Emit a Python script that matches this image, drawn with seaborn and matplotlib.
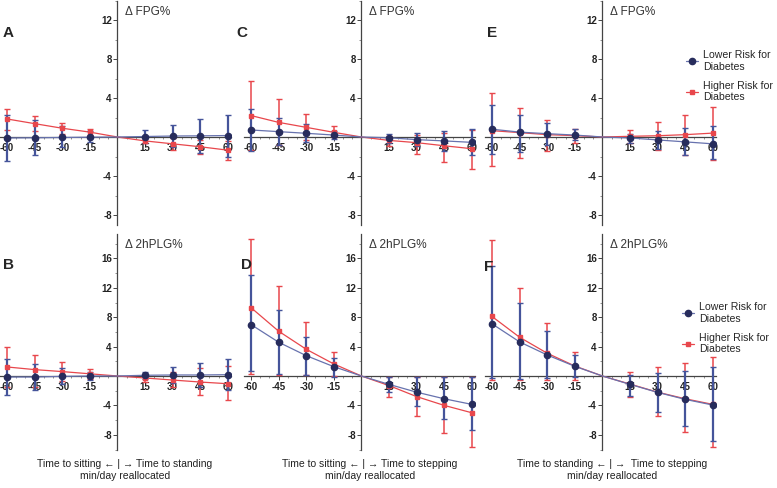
import numpy as np
import seaborn as sns
import matplotlib.pyplot as plt
from matplotlib.ticker import MultipleLocator
from matplotlib.lines import Line2D

sns.set_theme(style="white")
plt.rcParams['font.family'] = ['Liberation Sans', 'DejaVu Sans']
plt.rcParams['axes.unicode_minus'] = False

# minutes/day reallocated
mins = [-60, -45, -30, -15, 15, 30, 45, 60]

# A: FPG, sitting <-> standing
a_low = [-0.1, -0.08, -0.05, -0.02, 0.05, 0.1, 0.12, 0.15]
a_low_lo = [-2.5, -1.8, -1.0, -0.5, -0.6, -1.0, -1.6, -2.1]
a_low_hi = [2.3, 1.7, 1.1, 0.6, 0.7, 1.2, 1.8, 2.3]
a_high = [1.85, 1.37, 0.9, 0.5, -0.4, -0.7, -1.0, -1.35]
a_high_lo = [0.7, 0.6, 0.35, 0.25, -0.65, -1.3, -1.75, -2.35]
a_high_hi = [2.9, 2.15, 1.45, 0.8, -0.15, -0.15, -0.3, -0.45]

# C: FPG, sitting <-> stepping
c_low = [0.72, 0.55, 0.38, 0.2, -0.08, -0.27, -0.4, -0.55]
c_low_lo = [-1.4, -0.8, -0.5, -0.25, -0.6, -0.92, -1.4, -1.8]
c_low_hi = [2.85, 2.0, 1.3, 0.6, 0.3, 0.45, 0.65, 0.8]
c_high = [2.2, 1.5, 0.99, 0.48, -0.35, -0.58, -0.9, -1.2]
c_high_lo = [-1.3, -0.8, -0.3, 0.0, -0.9, -1.75, -2.6, -3.3]
c_high_hi = [5.7, 3.85, 2.36, 1.1, 0.15, 0.2, 0.4, 0.7]

# E: FPG, standing <-> stepping
e_low = [0.8, 0.5, 0.34, 0.2, -0.1, -0.3, -0.5, -0.7]
e_low_lo = [-1.7, -1.55, -0.85, -0.35, -0.6, -1.2, -1.8, -2.3]
e_low_hi = [3.25, 2.3, 1.44, 0.85, 0.35, 0.6, 0.9, 1.15]
e_high = [0.65, 0.45, 0.24, 0.14, 0.07, 0.13, 0.24, 0.4]
e_high_lo = [-2.95, -2.2, -1.44, -0.6, -0.58, -1.3, -1.8, -2.4]
e_high_hi = [4.55, 3.0, 1.78, 0.85, 0.75, 1.5, 2.3, 3.1]

# B: 2hPLG, sitting <-> standing
b_low = [-0.14, -0.14, -0.05, 0.0, 0.1, 0.14, 0.14, 0.18]
b_low_lo = [-2.55, -1.9, -1.05, -0.6, -0.45, -0.95, -1.5, -1.95]
b_low_hi = [2.3, 1.6, 1.15, 0.5, 0.6, 1.2, 1.78, 2.3]
b_high = [1.23, 0.87, 0.6, 0.3, -0.27, -0.55, -0.82, -1.05]
b_high_lo = [-1.5, -1.5, -0.7, -0.35, -0.8, -1.5, -2.55, -3.3]
b_high_hi = [4.0, 2.9, 1.9, 0.95, 0.22, 0.55, 1.1, 1.4]

# D: 2hPLG, sitting <-> stepping
d_low = [7.0, 4.6, 2.77, 1.27, -1.14, -2.2, -3.1, -3.86]
d_low_lo = [0.7, 0.27, 0.14, -0.1, -2.2, -4.1, -5.9, -7.4]
d_low_hi = [13.7, 9.0, 5.36, 2.45, -0.1, -0.1, -0.1, -0.1]
d_high = [9.3, 6.1, 3.64, 1.64, -1.3, -2.8, -4.0, -5.0]
d_high_lo = [0.3, 0.2, 0.1, 0.0, -2.9, -5.4, -7.7, -9.7]
d_high_hi = [18.6, 12.2, 7.3, 3.3, -0.2, -0.2, -0.2, -0.2]

# F: 2hPLG, standing <-> stepping
f_low = [7.1, 4.64, 2.86, 1.32, -1.14, -2.23, -3.18, -3.95]
f_low_lo = [-0.3, -0.4, -0.3, -0.2, -2.7, -4.95, -6.85, -8.8]
f_low_hi = [15.0, 10.0, 6.1, 2.86, 0.2, 0.45, 0.73, 1.2]
f_high = [8.1, 5.27, 3.1, 1.36, -1.1, -2.2, -3.1, -3.86]
f_high_lo = [-0.5, -0.5, -0.6, -0.5, -2.9, -5.4, -7.6, -9.7]
f_high_hi = [18.5, 12.0, 7.2, 3.27, 0.55, 1.2, 1.77, 2.55]

labels_group = ["Lower Risk for\nDiabetes", "Higher Risk for\nDiabetes"]
xlabels = ["Time to sitting \u2190 | \u2192 Time to standing\nmin/day reallocated",
           "Time to sitting \u2190 | \u2192 Time to stepping\nmin/day reallocated",
           "Time to standing \u2190 | \u2192  Time to stepping\nmin/day reallocated"]

BLUE_BAR = '#45549A'
BLUE_LINE = '#6772AE'
BLUE_MK = '#272C5C'
RED = '#E8474C'

W, H = 777, 488
fig = plt.figure(figsize=(W / 100, H / 100), dpi=100)


def make_axes(x_m60, top_px, height_px):
    left = x_m60 - 4 * 1.84
    width = 126 * 1.84
    return fig.add_axes([left / W, 1 - (top_px + height_px) / H, width / W, height_px / H])


def draw(ax, low, low_lo, low_hi, high, high_lo, high_hi, ylim, yticks, title, title_y):
    for est, lo, hi, bar_c, line_c, mk, mfc, ms, lw_bar in [
        (high, high_lo, high_hi, RED, RED, 's', RED, 3, 1.1),
        (low, low_lo, low_hi, BLUE_BAR, BLUE_LINE, 'o', BLUE_MK, 4.5, 1.6),
    ]:
        lx = mins[:4] + [0] + mins[4:]
        ly = est[:4] + [0] + est[4:]
        sns.lineplot(x=lx, y=ly, color=line_c, lw=0.9, ax=ax, estimator=None, zorder=3)
        est_a, lo_a, hi_a = np.array(est), np.array(lo), np.array(hi)
        ax.errorbar(mins, est_a, yerr=[est_a - lo_a, hi_a - est_a], fmt=mk, color=bar_c,
                    mfc=mfc, mec=mfc, ms=ms, elinewidth=lw_bar, capsize=2, capthick=1, zorder=4)
    ax.set_xlim(-64, 62)
    ax.set_ylim(*ylim)
    for s in ['top', 'right']:
        ax.spines[s].set_visible(False)
    ax.spines['left'].set_position(('data', 0))
    ax.spines['bottom'].set_position(('data', 0))
    for s in ['left', 'bottom']:
        ax.spines[s].set_color('#444444')
        ax.spines[s].set_linewidth(0.9)
    ax.set_xticks(mins)
    ax.set_yticks(yticks)
    ax.xaxis.set_minor_locator(MultipleLocator(5))
    ax.yaxis.set_minor_locator(MultipleLocator(2))
    ax.tick_params(which='major', direction='out', length=3, width=0.7, color='#444444',
                   labelsize=7, pad=1, labelcolor='#222222', bottom=True, left=True)
    ax.tick_params(which='minor', direction='out', length=1.5, width=0.5, color='#666666',
                   bottom=True, left=True)
    for lab in ax.get_xticklabels() + ax.get_yticklabels():
        lab.set_fontweight('bold')
    ax.set_xlabel('')
    ax.set_ylabel('')
    ax.patch.set_alpha(0)
    ax.text(4, title_y, title, fontsize=8.5, color='#333333', ha='left', va='center')


col_x = [7, 251, 492]
top_data = [(a_low, a_low_lo, a_low_hi, a_high, a_high_lo, a_high_hi),
            (c_low, c_low_lo, c_low_hi, c_high, c_high_lo, c_high_hi),
            (e_low, e_low_lo, e_low_hi, e_high, e_high_lo, e_high_hi)]
bot_data = [(b_low, b_low_lo, b_low_hi, b_high, b_high_lo, b_high_hi),
            (d_low, d_low_lo, d_low_hi, d_high, d_high_lo, d_high_hi),
            (f_low, f_low_lo, f_low_hi, f_high, f_high_lo, f_high_hi)]

for i in range(3):
    ax = make_axes(col_x[i], 137 - 14 * 9.75, 23 * 9.75)
    draw(ax, *top_data[i], ylim=(-9, 14), yticks=[-8, -4, 4, 8, 12],
         title="\u0394 FPG%", title_y=12.8)
    ax = make_axes(col_x[i], 376 - 19.3 * 7.35, 29.3 * 7.35)
    draw(ax, *bot_data[i], ylim=(-10, 19.3), yticks=[-8, -4, 4, 8, 12, 16],
         title="\u0394 2hPLG%", title_y=17.8)

# panel letters
for letter, (px, py) in zip("ABCDEF", [(3, 33), (3, 265), (236, 33), (241, 265), (487, 33), (484, 267)]):
    fig.text(px / W, 1 - py / H, letter, fontsize=11, fontweight='bold', va='center', ha='left')

# bottom x labels
for xl, cx in zip(xlabels, [125, 370, 612]):
    fig.text(cx / W, 1 - 470 / H, xl, fontsize=7.5, ha='center', va='center', color='#222222',
             linespacing=1.3)

# legends
handles = [Line2D([], [], color=BLUE_LINE, lw=0.9, marker='o', ms=4.5, mfc=BLUE_MK, mec=BLUE_MK),
           Line2D([], [], color=RED, lw=0.9, marker='s', ms=3, mfc=RED, mec=RED)]
for lx, ly in [(686, 50), (682, 302)]:
    fig.legend(handles, labels_group, loc='upper left', bbox_to_anchor=(lx / W, 1 - ly / H),
               bbox_transform=fig.transFigure, frameon=False, handlelength=1.1,
               handletextpad=0.5, labelspacing=0.85, borderpad=0, borderaxespad=0,
               prop={'size': 7.6})

fig.savefig("out.png", dpi=100)
